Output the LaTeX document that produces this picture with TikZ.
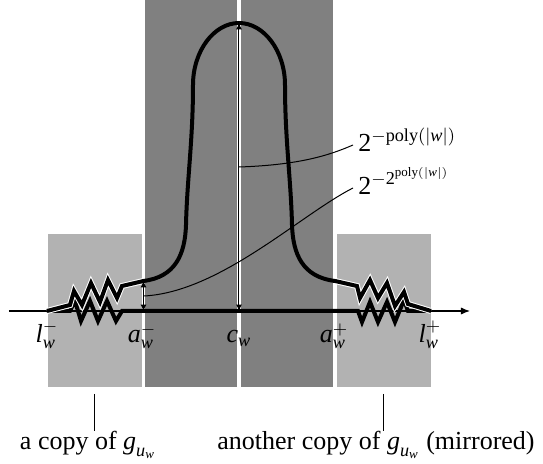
\documentclass[tikz,border=0pt]{standalone}
\usepackage{amsmath}
\usepackage{fontspec}
\setmainfont{Liberation Serif}
\usetikzlibrary{arrows.meta}
\begin{document}
\begin{tikzpicture}[x=0.5pt,y=-0.5pt,
 lightbox/.style={fill=black!30,draw=none},
 darkbox/.style={fill=black!50,draw=none},
 fn/.style={line width=2pt,line join=miter,miter limit=4},
 halo/.style={preaction={draw=white,line width=3pt}},
 thinline/.style={line width=0.5pt},
 lbl/.style={font=\fontsize{13}{15}\selectfont, inner sep=0pt},
 dimarrow/.style={line width=0.5pt,{Latex[length=3.2pt,width=3pt]}-{Latex[length=3.2pt,width=3pt]}},
]
\useasboundingbox (0,0) rectangle (543,464);
% boxes
\fill[lightbox] (48,234) rectangle (142,387);
\fill[darkbox] (145,0) rectangle (237,387);
\fill[darkbox] (241,0) rectangle (333,387);
\fill[lightbox] (337,234) rectangle (431,387);
% axis
\coordinate (ax0) at (9,311);
\coordinate (ax1) at (470,311);
\draw[line width=0.6pt,-{Latex[length=4.5pt,width=3.6pt]}] (ax0) -- (ax1);
% key points
\coordinate (lm) at (47,311);
\coordinate (lp) at (431,311);
\coordinate (am) at (143.5,311);
\coordinate (amtop) at (143.5,281);
\coordinate (apt) at (335,281);
\coordinate (cw) at (239,311);
\coordinate (top) at (239,23);
% lower function
\draw[fn] (lm) -- (70,311) -- (75,301) -- (81,321) -- (90,301) -- (98,321) -- (107,301) -- (116,321) -- (122,311)
  -- (358,311) -- (362,322) -- (370,302) -- (378,322) -- (387,302) -- (395,322) -- (404,300) -- (408,311) -- (lp);
% upper function: zigzag parts
\draw[fn,halo] (lm) -- (70,305) -- (74,291) -- (82,305) -- (91,283) -- (100,302) -- (108,280) -- (117,298) -- (122,286) -- (amtop);
\draw[fn,halo] (apt) -- (357,286) -- (360,298) -- (370,280) -- (378,298) -- (387,283) -- (395,306) -- (404,292) -- (408,304) -- (lp);
% upper function: bump
\draw[fn,line cap=round] (amtop) .. controls (175,277) and (185,255) .. (186,225)
  .. controls (187,180) and (193,140) .. (193,85)
  .. controls (193,51) and (214,23) .. (top)
  .. controls (264,23) and (285,51) .. (285,85)
  .. controls (285,140) and (291,180) .. (292,225)
  .. controls (293,255) and (303,277) .. (apt);
% dimension arrows
\draw[dimarrow] (top) -- (cw);
\draw[dimarrow] (amtop) -- (am);
% labels on the right
\node[lbl,anchor=base west] (p1) at (358,152) {$\text{2}^{-\text{poly}(|\textit{w}|)}$};
\node[lbl,anchor=base west] (p2) at (358,195) {$\text{2}^{-\text{2}^{\text{poly}(|\textit{w}|)}}$};
\coordinate (s1) at (239,167);
\coordinate (e1) at (353,145);
\coordinate (s2) at (144,296);
\coordinate (e2) at (353,188);
\draw[thinline] (s1) .. controls (300,165) and (330,155) .. (e1);
\draw[thinline] (s2) .. controls (220,292) and (300,215) .. (e2);
% axis labels
\node[lbl,anchor=base] (tlm) at (47,343) {$\textit{l}^{-}_{\textit{w}}$};
\node[lbl,anchor=base] (tam) at (142,343) {$\textit{a}^{-}_{\textit{w}}$};
\node[lbl,anchor=base] (tcw) at (239,343) {$\textit{c}_{\textit{w}}$};
\node[lbl,anchor=base] (tap) at (334,343) {$\textit{a}^{+}_{\textit{w}}$};
\node[lbl,anchor=base] (tlp) at (430,343) {$\textit{l}^{+}_{\textit{w}}$};
% bottom labels
\node[lbl,anchor=base] (c1) at (88,450) {a copy of $\textit{g}_{\textit{u}_{\textit{w}}}$};
\node[lbl,anchor=base] (c2) at (376,450) {another copy of $\textit{g}_{\textit{u}_{\textit{w}}}$ (mirrored)};
\coordinate (b1) at (95,394);
\coordinate (b2) at (384,394);
\draw[thinline] (b1) -- (b1 |- c1.north);
\draw[thinline] (b2) -- (b2 |- c2.north);
\end{tikzpicture}
\end{document}
